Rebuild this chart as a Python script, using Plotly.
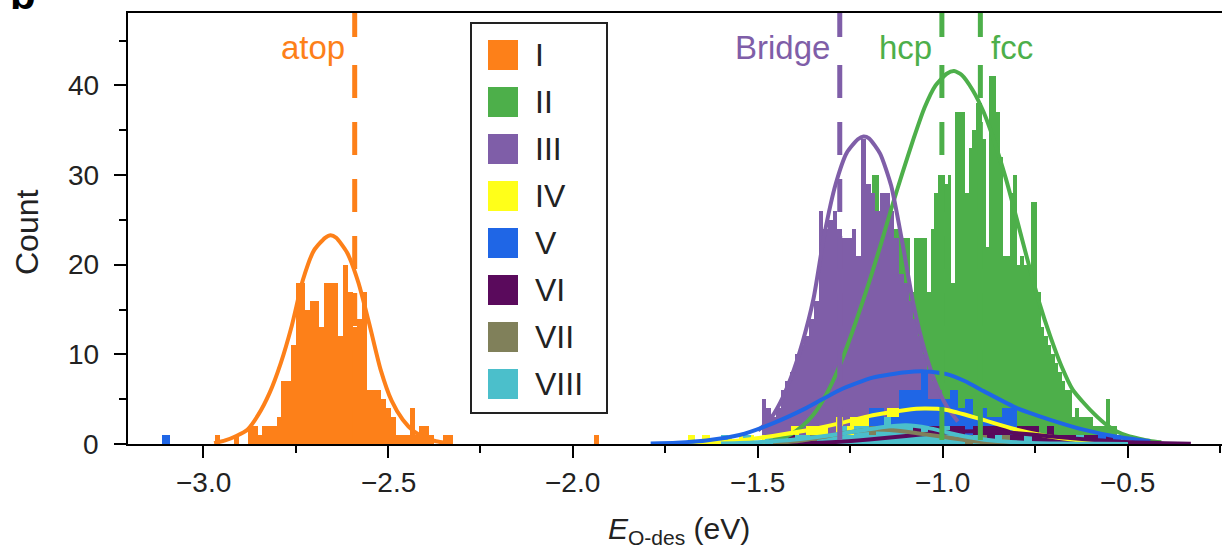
import plotly.graph_objects as go

# ---------------- data ----------------
series_names = ["I", "II", "III", "IV", "V", "VI", "VII", "VIII"]
series_colors = ["#fd8019", "#4daf4a", "#7f5ea8", "#ffff19",
                 "#1f66e6", "#5a0a5c", "#80805a", "#4bbfcb"]

# histogram: left edge of first bin, bin width (eV), counts per bin
I_start, I_width = -2.968, 0.01285
I_counts = [1, 0, 0, 0, 1, 0, 0, 2, 2, 1,
            2, 2, 2, 3, 7, 7, 11, 18, 18, 15,
            16, 16, 13, 18, 18, 18, 12, 20, 17, 13,
            14, 17, 6, 6, 6, 5, 4, 3, 1, 1,
            1, 4, 1, 2, 2, 1, 0, 0, 1, 1]
I_extra_x = [-1.936]
I_extra_counts = [1]

II_start, II_width = -1.47, 0.0093
II_counts = [1, 0, 1, 1, 2, 1, 2, 3, 2, 4,
             3, 5, 4, 6, 7, 6, 8, 9, 10, 9,
             12, 11, 13, 15, 14, 16, 18, 17, 20, 20,
             30, 30, 19, 22, 21, 22, 24, 24, 23, 23,
             23, 17, 23, 23, 23, 23, 17, 24, 28, 30,
             30, 29, 30, 18, 37, 37, 37, 28, 33, 35,
             38, 38, 34, 22, 41, 41, 37, 32, 21, 21,
             28, 30, 20, 21, 20, 20, 27, 27, 17, 13,
             12, 11, 10, 9, 8, 7, 6, 6, 3, 4,
             3, 3, 3, 3, 2, 2, 2, 2, 5, 2,
             2, 1, 1, 1]

III_start, III_width = -1.49, 0.0128
III_counts = [5, 4, 3, 4, 6, 7, 8, 10, 11, 12,
              14, 16, 26, 24, 25, 26, 24, 23, 23, 24,
              21, 34, 29, 28, 26, 28, 28, 26, 23, 19,
              18, 16, 14, 12, 10, 8, 7, 6, 5, 5, 3]

IV_start, IV_width = -1.69, 0.02
IV_counts = [1, 0, 1, 0, 0, 1, 0, 1, 1, 0,
             1, 1, 1, 1, 2, 1, 2, 2, 2, 1,
             3, 2, 3, 3, 3, 4, 3, 4, 4, 3,
             4, 4, 5, 4, 3, 4, 3, 4, 3, 3,
             2, 3, 2, 2, 1, 2, 1, 1, 1, 0,
             1, 0, 1, 0, 0, 1, 0, 1]

V_start, V_width = -1.26, 0.02
V_counts = [1, 0, 2, 4, 4, 3, 3, 6, 6, 6,
            8, 5, 5, 5, 6, 4, 5, 3, 4, 3,
            3, 4, 4, 2, 2, 2, 1, 2, 1, 1,
            1, 0, 1, 0, 1, 0, 1]
V_extra_x = [-3.10]
V_extra_counts = [1]

VI_start, VI_width = -1.42, 0.02
VI_counts = [1, 0, 1, 1, 0, 1, 1, 1, 1, 2,
             1, 1, 2, 1, 2, 1, 2, 2, 1, 2,
             2, 1, 2, 2, 1, 2, 2, 2, 2, 2,
             1, 2, 2, 2, 1, 2, 1, 1, 1, 1,
             1, 1, 0, 1]

VII_start, VII_width = -1.46, 0.02
VII_counts = [1, 0, 0, 1, 0, 1, 1, 0, 1, 1,
              1, 2, 1, 2, 1, 2, 1, 1, 2, 1,
              1, 1, 0, 1, 1, 0, 1, 0, 1, 0,
              0, 1, 0, 0, 1]

VIII_start, VIII_width = -1.60, 0.02
VIII_counts = [1, 0, 0, 1, 0, 0, 1, 0, 1, 0,
               1, 1, 0, 1, 1, 1, 2, 1, 2, 2,
               1, 2, 3, 2, 2, 2, 1, 2, 1, 1,
               2, 1, 1, 0, 1, 0, 0, 1, 0, 0,
               0, 1, 0, 0, 0, 0, 0, 0, 1, 0,
               0, 0, 0, 0, 1]

# fitted curves (x in eV, y in counts)
I_fit_x = [-2.97, -2.94, -2.91, -2.88, -2.85, -2.82, -2.79, -2.76, -2.73, -2.70, -2.67, -2.655,
           -2.64, -2.61, -2.58, -2.55, -2.52, -2.49, -2.46, -2.43, -2.40, -2.37, -2.34]
I_fit_y = [0.1, 0.4, 0.9, 1.6, 3.3, 5.7, 9.0, 13.2, 18.3, 21.6, 23.0, 23.3,
           23.0, 21.3, 18.0, 13.3, 8.3, 4.8, 2.7, 1.4, 0.7, 0.3, 0.1]
II_fit_x = [-1.47, -1.44, -1.41, -1.38, -1.35, -1.32, -1.29, -1.26, -1.23, -1.20, -1.17, -1.14,
            -1.11, -1.08, -1.05, -1.02, -0.99, -0.97, -0.95, -0.92, -0.89, -0.86, -0.83, -0.80,
            -0.77, -0.74, -0.71, -0.68, -0.65, -0.62, -0.59, -0.56, -0.53, -0.50, -0.47, -0.44, -0.41]
II_fit_y = [0.3, 0.6, 1.1, 2.0, 3.3, 5.2, 7.7, 10.8, 14.3, 18.0, 22.0, 26.2,
            30.2, 34.0, 37.5, 40.0, 41.3, 41.6, 41.2, 39.5, 37.0, 33.6, 29.6, 25.0,
            20.3, 15.8, 12.0, 8.7, 6.1, 4.6, 3.3, 2.2, 1.4, 0.9, 0.6, 0.35, 0.2]
III_fit_x = [-1.50, -1.47, -1.44, -1.41, -1.38, -1.35, -1.32, -1.29, -1.26, -1.23, -1.215,
             -1.20, -1.17, -1.14, -1.11, -1.08, -1.05, -1.02, -0.99, -0.96]
III_fit_y = [1.5, 2.6, 4.6, 7.5, 11.3, 16.2, 23.5, 29.0, 32.5, 34.0, 34.3,
             34.1, 32.4, 28.8, 22.5, 15.6, 10.5, 6.8, 4.2, 2.5]
IV_fit_x = [-1.69, -1.64, -1.55, -1.46, -1.37, -1.28, -1.19, -1.10, -1.05, -0.99,
            -0.90, -0.81, -0.72, -0.63, -0.54]
IV_fit_y = [0.05, 0.1, 0.4, 0.9, 1.5, 2.3, 3.2, 3.8, 3.95, 3.8,
            2.8, 1.7, 0.9, 0.4, 0.15]
V_fit_x = [-1.79, -1.72, -1.64, -1.55, -1.46, -1.37, -1.28, -1.19, -1.10, -1.05, -0.99,
           -0.94, -0.89, -0.80, -0.71, -0.62, -0.53, -0.44]
V_fit_y = [0.05, 0.15, 0.4, 1.0, 2.3, 4.0, 6.0, 7.4, 8.0, 8.1, 7.8,
           7.0, 5.9, 4.0, 2.7, 1.6, 0.8, 0.3]
VI_fit_x = [-1.41, -1.30, -1.20, -1.10, -1.02, -0.95, -0.88, -0.80, -0.72, -0.64,
            -0.56, -0.48, -0.40, -0.33]
VI_fit_y = [0.05, 0.2, 0.5, 0.9, 1.2, 1.4, 1.4, 1.2, 0.9, 0.6,
            0.35, 0.18, 0.08, 0.03]
VII_fit_x = [-1.45, -1.38, -1.31, -1.24, -1.19, -1.13, -1.07, -1.00, -0.93, -0.86, -0.78]
VII_fit_y = [0.1, 0.4, 0.9, 1.4, 1.6, 1.5, 1.2, 0.8, 0.4, 0.15, 0.05]
VIII_fit_x = [-1.60, -1.50, -1.40, -1.30, -1.22, -1.16, -1.10, -1.04, -0.98, -0.92,
              -0.86, -0.78, -0.68, -0.58, -0.50]
VIII_fit_y = [0.05, 0.2, 0.5, 1.0, 1.5, 1.9, 2.1, 1.8, 1.2, 0.7,
              0.35, 0.15, 0.05, 0.02, 0.01]

# adsorption-site reference energies
site_labels = ["atop", "Bridge", "hcp", "fcc"]
site_energies = [-2.590, -1.279, -1.003, -0.899]
site_colors = ["#fd8019", "#7f5ea8", "#4daf4a", "#4daf4a"]
site_label_side = ["left", "left", "left", "right"]

x_ticks = [-3.0, -2.5, -2.0, -1.5, -1.0, -0.5]
x_ticklabels = ["\u22123.0", "\u22122.5", "\u22122.0", "\u22121.5", "\u22121.0", "\u22120.5"]
y_ticks = [0, 10, 20, 30, 40]
y_ticklabels = ["0", "10", "20", "30", "40"]

# ---------------- figure ----------------
W, H = 1222, 552
ML, MR, MT, MB = 128, 0, 13, 108
PW, PH = W - ML - MR, H - MT - MB
FONT = "Liberation Sans, Arial, sans-serif"
TXT = "#222222"


def px(xp):
    return (xp - ML) / PW


def py(yp):
    return (H - MB - yp) / PH


hist = [
    (I_start, I_width, I_counts, I_extra_x, I_extra_counts),
    (II_start, II_width, II_counts, [], []),
    (III_start, III_width, III_counts, [], []),
    (IV_start, IV_width, IV_counts, [], []),
    (V_start, V_width, V_counts, V_extra_x, V_extra_counts),
    (VI_start, VI_width, VI_counts, [], []),
    (VII_start, VII_width, VII_counts, [], []),
    (VIII_start, VIII_width, VIII_counts, [], []),
]
fits = [(I_fit_x, I_fit_y), (II_fit_x, II_fit_y), (III_fit_x, III_fit_y),
        (IV_fit_x, IV_fit_y), (V_fit_x, V_fit_y), (VI_fit_x, VI_fit_y),
        (VII_fit_x, VII_fit_y), (VIII_fit_x, VIII_fit_y)]

fig = go.Figure()
for (start, width, counts, ex_x, ex_c), name, col in zip(hist, series_names, series_colors):
    xs = [start + (i + 0.5) * width for i in range(len(counts))] + list(ex_x)
    ys = list(counts) + list(ex_c)
    fig.add_trace(go.Bar(x=xs, y=ys, width=width, name=name,
                         marker=dict(color=col, line=dict(width=0)),
                         showlegend=False, hoverinfo="skip"))

for (fx, fy), name, col in zip(fits, series_names, series_colors):
    fig.add_trace(go.Scatter(x=fx, y=fy, mode="lines", name=name + " fit",
                             line=dict(color=col, width=4, shape="spline", smoothing=0.6),
                             showlegend=False, hoverinfo="skip"))

shapes = []
annotations = []
dash = "24px,28px,33px,24px,33px,24px,33px,24px,33px,24px,33px,24px,33px,24px,33px,24px"
for lab, e, col, side in zip(site_labels, site_energies, site_colors, site_label_side):
    shapes.append(dict(type="line", xref="x", yref="paper", x0=e, x1=e, y0=1, y1=0,
                       line=dict(color=col, width=5, dash=dash), layer="above"))
    annotations.append(dict(xref="x", yref="paper", x=e, y=py(47), text=lab, showarrow=False,
                            xanchor="right" if side == "left" else "left",
                            xshift=-8 if side == "left" else 9, yanchor="middle",
                            font=dict(family=FONT, size=33, color=col)))

# tick labels placed on the axes' own scales
for v, t in zip(x_ticks, x_ticklabels):
    annotations.append(dict(xref="x", yref="paper", x=v, y=py(483), text=t, showarrow=False,
                            xanchor="center", yanchor="middle",
                            font=dict(family=FONT, size=28, color=TXT)))
for v, t in zip(y_ticks, y_ticklabels):
    annotations.append(dict(xref="paper", yref="y", x=px(101), y=v, text=t, showarrow=False,
                            xanchor="right", yanchor="middle",
                            font=dict(family=FONT, size=28, color=TXT)))

# legend box
shapes.append(dict(type="rect", xref="paper", yref="paper", x0=px(471), x1=px(607),
                   y0=py(413), y1=py(23), line=dict(color=TXT, width=2),
                   fillcolor="white", layer="above"))
for k, (name, col) in enumerate(zip(series_names, series_colors)):
    yc = 55 + 47 * k
    shapes.append(dict(type="rect", xref="paper", yref="paper", x0=px(488), x1=px(518),
                       y0=py(yc + 15), y1=py(yc - 15), line=dict(width=0),
                       fillcolor=col, layer="above"))
    annotations.append(dict(xref="paper", yref="paper", x=px(533), y=py(yc), text=name,
                            showarrow=False, xanchor="left", yanchor="middle",
                            font=dict(family=FONT, size=32, color=TXT)))

# axis titles and panel label
annotations.append(dict(xref="paper", yref="paper", x=px(679), y=py(530),
                        text="<i>E</i><sub>O-des</sub> (eV)", showarrow=False,
                        xanchor="center", yanchor="middle",
                        font=dict(family=FONT, size=30, color=TXT)))
annotations.append(dict(xref="paper", yref="paper", x=px(27), y=py(232), text="Count",
                        textangle=-90, showarrow=False, xanchor="center", yanchor="middle",
                        font=dict(family=FONT, size=32, color=TXT)))
annotations.append(dict(xref="paper", yref="paper", x=px(8), y=py(20), text="<b>b</b>",
                        showarrow=False, xanchor="left", yanchor="bottom",
                        font=dict(family=FONT, size=42, color="black")))

fig.update_layout(
    width=W, height=H,
    margin=dict(l=ML, r=MR, t=MT, b=MB, pad=0),
    paper_bgcolor="white", plot_bgcolor="white",
    barmode="overlay", bargap=0,
    shapes=shapes, annotations=annotations,
    showlegend=False,
    font=dict(family=FONT, color=TXT),
)
fig.update_xaxes(range=[-3.2027, -0.2459], tickvals=x_ticks, showticklabels=False,
                 ticks="outside", ticklen=12, tickwidth=2, tickcolor="black",
                 minor=dict(dtick=0.25, tick0=-3.0, ticks="outside", ticklen=7,
                            tickwidth=2, tickcolor="black"),
                 showline=True, linecolor="black", linewidth=2, mirror=True,
                 showgrid=False, zeroline=False, automargin=False)
fig.update_yaxes(range=[0, 48.08], tickvals=y_ticks, showticklabels=False,
                 ticks="outside", ticklen=12, tickwidth=2, tickcolor="black",
                 minor=dict(dtick=5, tick0=0, ticks="outside", ticklen=7,
                            tickwidth=2, tickcolor="black"),
                 showline=True, linecolor="black", linewidth=2, mirror=False,
                 showgrid=False, zeroline=False, automargin=False)

fig.write_html("out.html", config={"displayModeBar": False},
               post_script="document.body.style.margin='0';document.body.style.overflow='hidden';")
